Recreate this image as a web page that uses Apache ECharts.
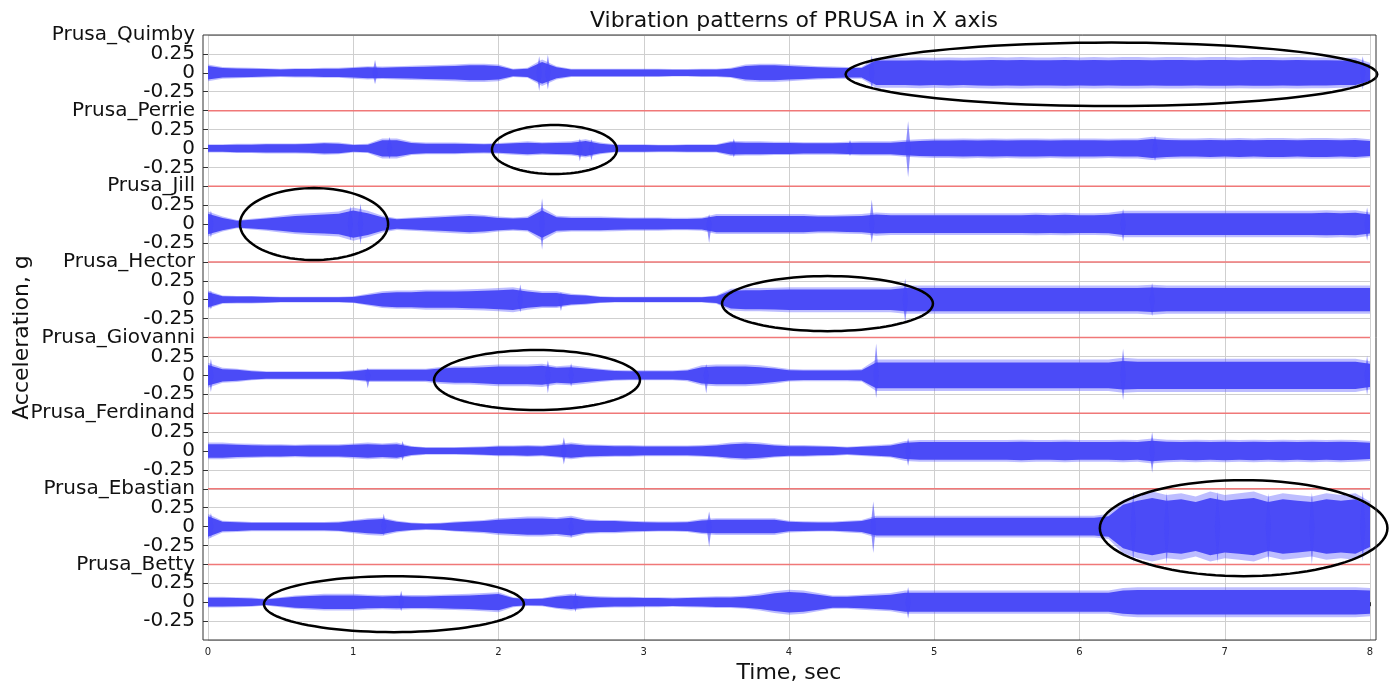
<!DOCTYPE html>
<html>
<head>
<meta charset="utf-8">
<script src="https://cdn.jsdelivr.net/npm/echarts@6/dist/echarts.min.js"></script>
<style>
  html, body { margin: 0; padding: 0; background: #fff; }
  #main { width: 1390px; height: 684px; }
</style>
</head>
<body>
<div id="main"></div>
<script>
// printers from bottom (offset 0) to top (offset 7)
var printers = ['Prusa_Betty', 'Prusa_Ebastian', 'Prusa_Ferdinand', 'Prusa_Giovanni',
                'Prusa_Hector', 'Prusa_Jill', 'Prusa_Perrie', 'Prusa_Quimby'];

// sample times, 0 .. 8 s every 0.1 s
var times = [];
for (var i = 0; i <= 80; i++) times.push(i / 10);

// peak amplitude (g) of each trace at those times
var ampQuimby = [0.10,0.07,0.065,0.06,0.055,0.05,0.055,0.055,0.06,0.06,
  0.07,0.08,0.075,0.08,0.085,0.09,0.095,0.10,0.11,0.11,
  0.10,0.05,0.06,0.16,0.08,0.05,0.05,0.05,0.05,0.05,
  0.05,0.05,0.045,0.045,0.05,0.05,0.06,0.10,0.11,0.11,
  0.10,0.09,0.08,0.075,0.07,0.07,0.18,0.18,0.18,0.185,
  0.18,0.185,0.18,0.185,0.19,0.185,0.19,0.185,0.185,0.19,
  0.185,0.19,0.185,0.19,0.19,0.185,0.19,0.19,0.185,0.19,
  0.19,0.185,0.19,0.19,0.185,0.19,0.185,0.185,0.18,0.18,
  0.12];
var ampPerrie = [0.05,0.05,0.055,0.055,0.06,0.06,0.06,0.065,0.075,0.07,
  0.05,0.055,0.12,0.12,0.08,0.07,0.07,0.07,0.065,0.06,
  0.065,0.075,0.085,0.075,0.08,0.085,0.11,0.07,0.05,0.05,
  0.05,0.045,0.045,0.05,0.05,0.05,0.09,0.085,0.085,0.08,
  0.08,0.075,0.075,0.075,0.08,0.085,0.085,0.085,0.10,0.11,
  0.115,0.115,0.12,0.115,0.12,0.115,0.12,0.12,0.115,0.12,
  0.12,0.12,0.115,0.12,0.12,0.14,0.125,0.12,0.12,0.125,
  0.12,0.125,0.12,0.125,0.125,0.12,0.125,0.125,0.12,0.125,
  0.11];
var ampJill = [0.15,0.09,0.05,0.065,0.08,0.10,0.12,0.13,0.14,0.15,
  0.20,0.16,0.10,0.07,0.08,0.09,0.10,0.11,0.12,0.11,
  0.09,0.08,0.09,0.20,0.10,0.09,0.09,0.09,0.085,0.08,
  0.08,0.08,0.075,0.075,0.08,0.12,0.12,0.12,0.12,0.12,
  0.12,0.12,0.11,0.11,0.115,0.12,0.14,0.13,0.13,0.13,
  0.13,0.13,0.13,0.13,0.13,0.13,0.13,0.135,0.13,0.135,
  0.13,0.13,0.135,0.16,0.16,0.16,0.16,0.16,0.16,0.16,
  0.16,0.16,0.16,0.16,0.16,0.16,0.16,0.165,0.16,0.165,
  0.14];
var ampHector = [0.11,0.05,0.045,0.045,0.04,0.035,0.035,0.035,0.035,0.035,
  0.04,0.07,0.10,0.11,0.11,0.12,0.12,0.12,0.125,0.13,
  0.14,0.15,0.12,0.10,0.10,0.07,0.06,0.04,0.035,0.035,
  0.035,0.035,0.035,0.035,0.035,0.05,0.13,0.14,0.14,0.145,
  0.15,0.15,0.15,0.15,0.15,0.15,0.15,0.15,0.17,0.17,
  0.17,0.17,0.17,0.17,0.17,0.17,0.17,0.17,0.17,0.17,
  0.17,0.17,0.17,0.17,0.17,0.18,0.17,0.17,0.17,0.17,
  0.17,0.17,0.17,0.17,0.17,0.17,0.17,0.17,0.17,0.17,
  0.17];
var ampGiovanni = [0.15,0.09,0.08,0.06,0.05,0.05,0.05,0.05,0.05,0.05,
  0.06,0.08,0.08,0.08,0.08,0.08,0.10,0.11,0.11,0.12,
  0.13,0.13,0.13,0.14,0.11,0.12,0.10,0.08,0.065,0.06,
  0.06,0.06,0.06,0.07,0.12,0.13,0.13,0.13,0.12,0.10,
  0.075,0.07,0.07,0.07,0.07,0.075,0.19,0.19,0.19,0.19,
  0.19,0.19,0.19,0.19,0.19,0.19,0.19,0.19,0.19,0.19,
  0.19,0.19,0.19,0.21,0.20,0.20,0.20,0.20,0.20,0.20,
  0.20,0.20,0.20,0.20,0.20,0.20,0.20,0.20,0.20,0.20,
  0.17];
var ampFerdinand = [0.10,0.10,0.09,0.085,0.08,0.08,0.075,0.08,0.08,0.08,
  0.09,0.10,0.09,0.10,0.06,0.045,0.045,0.045,0.05,0.055,
  0.065,0.065,0.07,0.065,0.08,0.10,0.08,0.075,0.07,0.07,
  0.065,0.065,0.065,0.065,0.07,0.08,0.10,0.11,0.10,0.08,
  0.07,0.07,0.065,0.06,0.05,0.06,0.07,0.08,0.12,0.13,
  0.13,0.13,0.13,0.13,0.13,0.13,0.135,0.13,0.13,0.135,
  0.13,0.13,0.13,0.135,0.13,0.15,0.135,0.13,0.135,0.13,
  0.135,0.13,0.135,0.13,0.135,0.13,0.135,0.13,0.135,0.13,
  0.12];
var ampEbastian = [0.15,0.07,0.065,0.055,0.055,0.055,0.055,0.055,0.055,0.06,
  0.08,0.10,0.11,0.07,0.05,0.04,0.045,0.06,0.07,0.08,
  0.10,0.11,0.12,0.12,0.11,0.13,0.09,0.08,0.08,0.07,
  0.065,0.06,0.06,0.065,0.09,0.10,0.10,0.10,0.10,0.10,
  0.07,0.065,0.06,0.06,0.07,0.08,0.13,0.13,0.13,0.13,
  0.13,0.13,0.13,0.13,0.13,0.13,0.13,0.13,0.13,0.13,
  0.13,0.13,0.15,0.32,0.38,0.42,0.38,0.40,0.36,0.42,
  0.38,0.40,0.42,0.36,0.40,0.38,0.36,0.40,0.38,0.40,
  0.30];
var ampBetty = [0.065,0.065,0.06,0.055,0.04,0.06,0.08,0.09,0.10,0.10,
  0.10,0.09,0.085,0.09,0.085,0.085,0.09,0.095,0.10,0.11,
  0.12,0.06,0.045,0.05,0.08,0.10,0.08,0.07,0.065,0.065,
  0.06,0.06,0.055,0.06,0.065,0.07,0.07,0.08,0.10,0.13,
  0.15,0.14,0.11,0.08,0.08,0.09,0.10,0.11,0.14,0.14,
  0.14,0.14,0.14,0.14,0.14,0.14,0.14,0.14,0.14,0.14,
  0.14,0.14,0.14,0.17,0.18,0.18,0.18,0.18,0.18,0.18,
  0.18,0.18,0.18,0.18,0.18,0.18,0.18,0.18,0.18,0.18,
  0.17];

// short bursts: [time s, peak up g, peak down g]
var spikesQuimby = [[1.15,0.17,0.15],[2.28,0.22,0.24],[2.34,0.24,0.22],[4.57,0.23,0.22],[7.95,0.22,0.22]];
var spikesPerrie = [[1.25,0.15,0.14],[2.56,0.13,0.17],[2.64,0.12,0.16],[3.62,0.13,0.12],[4.42,0.11,0.10],[4.82,0.36,0.38],[6.52,0.17,0.17]];
var spikesJill = [[0.02,0.18,0.18],[0.98,0.24,0.22],[1.05,0.27,0.27],[2.3,0.34,0.34],[3.45,0.13,0.25],[4.57,0.32,0.25],[6.3,0.20,0.23],[7.98,0.22,0.22]];
var spikesHector = [[0.02,0.12,0.13],[2.15,0.20,0.17],[2.43,0.10,0.15],[4.8,0.28,0.30],[6.5,0.22,0.22]];
var spikesGiovanni = [[0.02,0.22,0.22],[1.1,0.10,0.17],[2.34,0.20,0.24],[2.5,0.16,0.15],[3.43,0.15,0.24],[4.6,0.42,0.30],[6.3,0.35,0.33],[7.98,0.26,0.26]];
var spikesFerdinand = [[1.34,0.13,0.13],[2.45,0.18,0.18],[4.82,0.17,0.20],[6.5,0.25,0.29]];
var spikesEbastian = [[0.02,0.18,0.15],[1.21,0.17,0.12],[2.5,0.10,0.15],[3.45,0.20,0.27],[4.58,0.33,0.35],[6.37,0.46,0.48],[6.6,0.45,0.50],[6.95,0.46,0.48],[7.3,0.44,0.48],[7.6,0.45,0.50],[7.95,0.47,0.46]];
var spikesBetty = [[1.33,0.15,0.12],[2.53,0.13,0.13],[4.82,0.20,0.22]];

// highlighted regions: [centre time, centre y, half width s, half height]
var ellipses = [[6.22,6.98,1.83,0.42],[2.385,5.985,0.43,0.324],[0.73,5.0,0.51,0.476],
                [4.265,3.948,0.726,0.364],[2.265,2.937,0.709,0.397],[7.13,0.979,0.99,0.635],
                [1.28,-0.026,0.895,0.37]];

// red separators between the traces
var separators = [0.5, 1.5, 2.5, 3.5, 4.5, 5.5, 6.5];

var amps = [ampBetty, ampEbastian, ampFerdinand, ampGiovanni, ampHector, ampJill, ampPerrie, ampQuimby];
var spikes = [spikesBetty, spikesEbastian, spikesFerdinand, spikesGiovanni, spikesHector, spikesJill, spikesPerrie, spikesQuimby];

var FONT = 'DejaVu Sans';
var BLUE = '#4b4bf7';
var HALO = 'rgba(90,90,255,0.4)';

function bandPoints(api, offset, amp, f) {
  var up = [], down = [];
  for (var i = 0; i < amp.length; i++) {
    up.push(api.coord([times[i], offset + amp[i] * f]));
    down.unshift(api.coord([times[i], offset - amp[i] * f]));
  }
  return up.concat(down);
}

function traceSeries(offset, amp, burst) {
  return {
    type: 'custom',
    silent: true,
    z: 3,
    data: [0],
    renderItem: function (params, api) {
      var children = [
        { type: 'polygon', shape: { points: bandPoints(api, offset, amp, 1.1) }, style: { fill: HALO } },
        { type: 'polygon', shape: { points: bandPoints(api, offset, amp, 0.9) }, style: { fill: BLUE } }
      ];
      burst.forEach(function (s) {
        children.push({
          type: 'polygon',
          shape: { points: [
            api.coord([s[0] - 0.018, offset]), api.coord([s[0], offset + s[1]]),
            api.coord([s[0] + 0.018, offset]), api.coord([s[0], offset - s[2]])
          ] },
          style: { fill: 'rgba(70,70,250,0.6)' }
        });
      });
      return { type: 'group', children: children };
    }
  };
}

var series = [];
separators.forEach(function (s) {
  series.push({
    type: 'line', data: [[0, s], [8, s]], symbol: 'none', silent: true, z: 2,
    lineStyle: { color: '#f07878', width: 1.5 }
  });
});
for (var k = 0; k < printers.length; k++) {
  series.push(traceSeries(k, amps[k], spikes[k]));
}
series.push({
  type: 'custom',
  silent: true,
  z: 5,
  clip: false,
  data: ellipses,
  renderItem: function (params, api) {
    var cx = api.value(0), cy = api.value(1), rx = api.value(2), ry = api.value(3);
    var pts = [];
    for (var j = 0; j < 96; j++) {
      var a = j / 96 * Math.PI * 2;
      pts.push(api.coord([cx + rx * Math.cos(a), cy + ry * Math.sin(a)]));
    }
    return { type: 'polygon', shape: { points: pts }, style: { fill: null, stroke: '#000', lineWidth: 2.5 } };
  }
});

var chart = echarts.init(document.getElementById('main'));
chart.setOption({
  backgroundColor: '#fff',
  animation: false,
  textStyle: { fontFamily: FONT },
  title: {
    text: 'Vibration patterns of PRUSA in X axis',
    left: 789, top: 5, textAlign: 'center',
    textStyle: { fontFamily: FONT, fontSize: 22, fontWeight: 'normal', color: '#111' }
  },
  grid: { left: 208, right: 20, top: 35, bottom: 44, outerBoundsMode: 'none', containLabel: false },
  xAxis: {
    type: 'value', min: 0, max: 8, interval: 1,
    name: 'Time, sec', nameLocation: 'middle', nameGap: 19,
    nameTextStyle: { fontFamily: FONT, fontSize: 22, color: '#111' },
    axisLine: { show: false },
    axisTick: { show: true, length: 4, lineStyle: { color: '#333' } },
    axisLabel: { fontSize: 10, color: '#222', margin: 7 },
    splitLine: { show: true, lineStyle: { color: '#cfcfcf', width: 1 } }
  },
  yAxis: [{
    // numeric ticks inside each trace band
    type: 'value', min: -0.5, max: 7.5, interval: 0.25, offset: 5, position: 'left',
    name: 'Acceleration, g', nameLocation: 'middle', nameGap: 170, nameRotate: 90,
    nameMoveOverlap: false,
    nameTextStyle: { fontFamily: FONT, fontSize: 22, color: '#111' },
    axisLine: { show: false },
    axisTick: { show: true, length: 5, lineStyle: { color: '#333' } },
    axisLabel: {
      interval: 0, fontSize: 20, lineHeight: 17, color: '#111', margin: 8,
      showMinLabel: false, showMaxLabel: false,
      formatter: function (v) {
        var base = Math.floor(v + 1e-9);
        var r = Math.round((v - base) * 100);
        if (r === 50) return '';
        if (r === 25) return '0.25';
        if (r === 75) return '-0.25';
        return '0';
      }
    },
    splitLine: { show: true, lineStyle: { color: '#cfcfcf', width: 1 } }
  }, {
    // printer names at the top of each band
    type: 'value', min: -0.5, max: 7.5, interval: 1, offset: 5, position: 'left',
    axisLine: { show: false },
    axisTick: { show: false },
    splitLine: { show: false },
    axisLabel: {
      interval: 0, fontSize: 20, color: '#111', margin: 8,
      showMinLabel: false, showMaxLabel: true,
      formatter: function (v) {
        return printers[Math.floor(v + 1e-9)] || '';
      }
    }
  }],
  graphic: [{
    type: 'rect', z: 100, silent: true,
    shape: { x: 203, y: 35, width: 1173, height: 605 },
    style: { fill: null, stroke: '#333', lineWidth: 1 }
  }],
  series: series
});
</script>
</body>
</html>
